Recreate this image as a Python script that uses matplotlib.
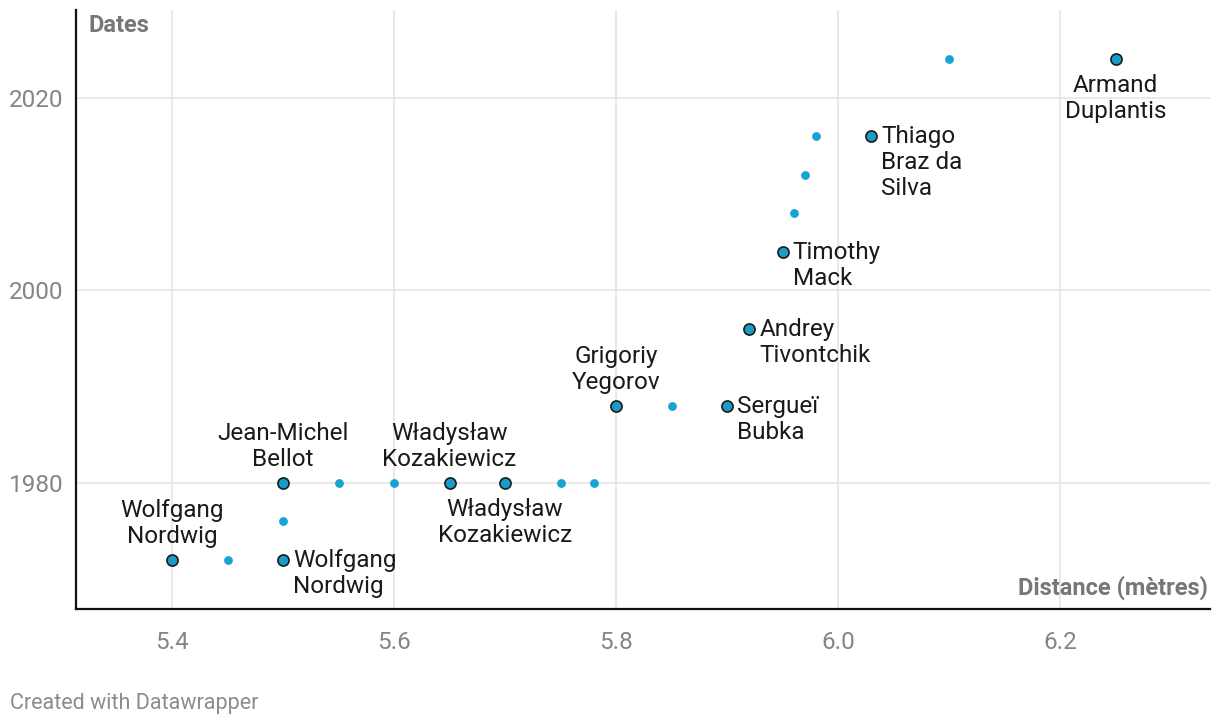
import matplotlib
matplotlib.use("Agg")
import matplotlib.pyplot as plt

plt.rcParams['font.family'] = ['Roboto', 'DejaVu Sans']

# Pole vault world record progression (metres, year)
distances = [5.40, 5.45, 5.50, 5.50, 5.50, 5.55, 5.60, 5.65, 5.70, 5.75, 5.78,
             5.80, 5.85, 5.90, 5.92, 5.95, 5.96, 5.97, 5.98, 6.03, 6.10, 6.25]
years = [1972, 1972, 1972, 1976, 1980, 1980, 1980, 1980, 1980, 1980, 1980,
         1988, 1988, 1988, 1996, 2004, 2008, 2012, 2016, 2016, 2024, 2024]
names = ["Wolfgang\nNordwig", "", "Wolfgang\nNordwig", "", "Jean-Michel\nBellot",
         "", "", "Władysław\nKozakiewicz", "Władysław\nKozakiewicz", "", "",
         "Grigoriy\nYegorov", "", "Sergueï\nBubka", "Andrey\nTivontchik",
         "Timothy\nMack", "", "", "", "Thiago\nBraz da\nSilva", "", "Armand\nDuplantis"]

x_ticks = [5.4, 5.6, 5.8, 6.0, 6.2]
y_ticks = [1980, 2000, 2020]

# label placement: 'above', 'below', 'right'
placement = {0: 'above', 2: 'right', 4: 'above', 7: 'above', 8: 'below',
             11: 'above', 13: 'right', 14: 'right', 15: 'right', 19: 'right',
             21: 'below'}

fig = plt.figure(figsize=(12.2, 7.26), dpi=100)
ax = fig.add_axes([0.0623, 0.1612, 0.9295, 0.8248])

ax.set_xlim(5.3135, 6.335)
ax.set_ylim(1966.9, 2029.1)

ax.set_xticks(x_ticks)
ax.set_xticklabels([f"{t:.1f}" for t in x_ticks])
ax.set_yticks(y_ticks)
ax.grid(True, color='#e3e3e3', lw=1.1, zorder=0)
ax.set_axisbelow(True)
ax.tick_params(length=0, labelsize=17.5, labelcolor='#858585')
ax.tick_params(axis='x', pad=16)
ax.tick_params(axis='y', pad=9)

for s in ['top', 'right']:
    ax.spines[s].set_visible(False)
for s in ['left', 'bottom']:
    ax.spines[s].set_linewidth(1.6)
    ax.spines[s].set_color('#111111')

small_x = [d for d, n in zip(distances, names) if not n]
small_y = [y for y, n in zip(years, names) if not n]
big_x = [d for d, n in zip(distances, names) if n]
big_y = [y for y, n in zip(years, names) if n]

ax.scatter(small_x, small_y, s=40, color='#17a3d3', linewidths=0, zorder=3)
ax.scatter(big_x, big_y, s=64, color='#1a9ccb', edgecolors='#1a1a1a',
           linewidths=1.2, zorder=4)

for i, name in enumerate(names):
    if not name:
        continue
    where = placement[i]
    if where == 'above':
        kw = dict(xytext=(0, 12), ha='center', va='bottom')
    elif where == 'below':
        kw = dict(xytext=(0, -15), ha='center', va='top')
    else:
        kw = dict(xytext=(10, 11), ha='left', va='top')
    ax.annotate(name, (distances[i], years[i]), textcoords='offset pixels',
                fontsize=17.5, color='#1a1a1a', linespacing=1.16, zorder=5, **kw)

ax.text(0.011, 0.993, "Dates", transform=ax.transAxes, fontsize=17,
        fontweight='bold', color='#777777', ha='left', va='top')
ax.text(0.9985, 0.015, "Distance (mètres)", transform=ax.transAxes, fontsize=17,
        fontweight='bold', color='#777777', ha='right', va='bottom')

fig.text(10 / 1220, 1 - 703 / 726, "Created with Datawrapper", fontsize=15.5,
         color='#8c8c8c', ha='left', va='center')

fig.savefig("out.png", dpi=100)
